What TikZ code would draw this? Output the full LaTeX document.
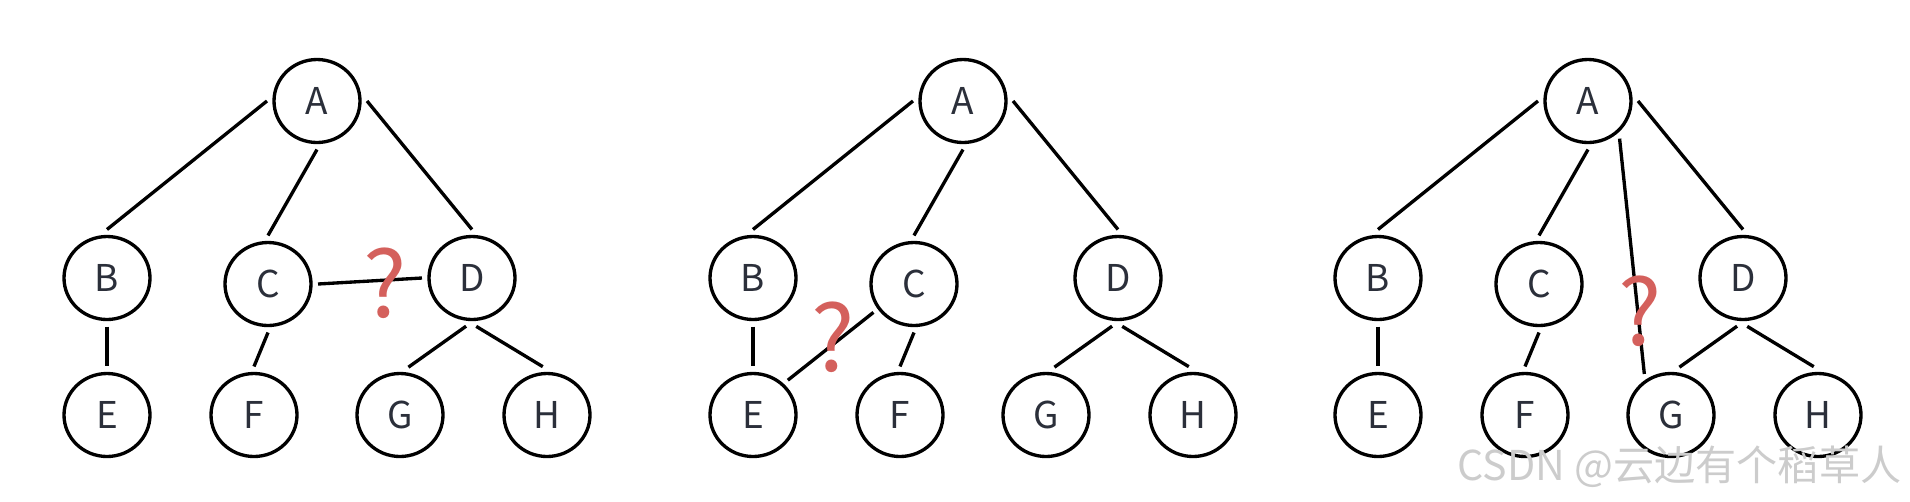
\documentclass[tikz,border=0pt]{standalone}
\usepackage{fontspec}
\setmainfont{Noto Sans}
\newfontfamily\cjkfont{Noto Sans CJK SC}
\usetikzlibrary{shapes.geometric}
\definecolor{letra}{HTML}{2B2F3A}
\definecolor{rojo}{HTML}{D4605C}
\pgfdeclarelayer{aristas}
\pgfsetlayers{aristas, main}
\tikzstyle{vert}=[ellipse,draw=black,line width=0.95pt,fill=white,minimum width=8.6mm,minimum height=8.3mm,inner sep=0pt,outer sep=2pt,text=letra,font=\cjkfont\fontsize{10.5}{12}\selectfont]
\tikzstyle{arista}=[line width=0.95pt]
\tikzstyle{duda}=[text=rojo,inner sep=0pt,font=\cjkfont\fontsize{26}{30}\selectfont]

\begin{document}
\begin{tikzpicture}
		\useasboundingbox (0,0) rectangle (19.10,5.01);
		% primer arbol
		\node [vert] (a1) at (3.17,4.00) {A};
		\node [vert] (b1) at (1.07,2.23) {B};
		\node [vert] (c1) at (2.68,2.17) {C};
		\node [vert] (d1) at (4.72,2.23) {D};
		\node [vert] (e1) at (1.07,0.86) {E};
		\node [vert] (f1) at (2.54,0.86) {F};
		\node [vert] (g1) at (4.00,0.86) {G};
		\node [vert] (h1) at (5.47,0.86) {H};
		% segundo arbol
		\node [vert] (a2) at (9.63,4.00) {A};
		\node [vert] (b2) at (7.53,2.23) {B};
		\node [vert] (c2) at (9.14,2.17) {C};
		\node [vert] (d2) at (11.18,2.23) {D};
		\node [vert] (e2) at (7.53,0.86) {E};
		\node [vert] (f2) at (9.00,0.86) {F};
		\node [vert] (g2) at (10.46,0.86) {G};
		\node [vert] (h2) at (11.93,0.86) {H};
		% tercer arbol
		\node [vert] (a3) at (15.88,4.00) {A};
		\node [vert] (b3) at (13.78,2.23) {B};
		\node [vert] (c3) at (15.39,2.17) {C};
		\node [vert] (d3) at (17.43,2.23) {D};
		\node [vert] (e3) at (13.78,0.86) {E};
		\node [vert] (f3) at (15.25,0.86) {F};
		\node [vert] (g3) at (16.71,0.86) {G};
		\node [vert] (h3) at (18.18,0.86) {H};
		\begin{pgfonlayer}{aristas}
			\draw [arista] (a1.west)--(b1.north);
			\draw [arista] (a1.south)--(c1.north);
			\draw [arista] (a1.east)--(d1.north);
			\draw [arista] (b1.south)--(e1.north);
			\draw [arista] (c1.south)--(f1.north);
			\draw [arista] (d1.-97)--(g1.80);
			\draw [arista] (d1.-85)--(h1.95);
			\draw [arista] (c1.east)--(d1.west);
			\draw [arista] (a2.west)--(b2.north);
			\draw [arista] (a2.south)--(c2.north);
			\draw [arista] (a2.east)--(d2.north);
			\draw [arista] (b2.south)--(e2.north);
			\draw [arista] (c2.south)--(f2.north);
			\draw [arista] (d2.-97)--(g2.80);
			\draw [arista] (d2.-85)--(h2.95);
			\draw [arista] (e2.45)--(c2.215);
			\draw [arista] (a3.west)--(b3.north);
			\draw [arista] (a3.south)--(c3.north);
			\draw [arista] (a3.east)--(d3.north);
			\draw [arista] (b3.south)--(e3.north);
			\draw [arista] (c3.south)--(f3.north);
			\draw [arista] (d3.-97)--(g3.80);
			\draw [arista] (d3.-85)--(h3.95);
			\draw [arista] (a3.-50)--(g3.123);
		\end{pgfonlayer}
		\node [duda] (q1) at (3.85,2.18) {?};
		\node [duda] (q2) at (8.33,1.64) {?};
		\node [duda] (q3) at (16.40,1.90) {?};
		\node [anchor=east,inner sep=0pt,text=black!20,font=\cjkfont\fontsize{11.7}{14}\selectfont] (marca) at (19.02,0.34) {CSDN @云边有个稻草人};
\end{tikzpicture}
\end{document}
